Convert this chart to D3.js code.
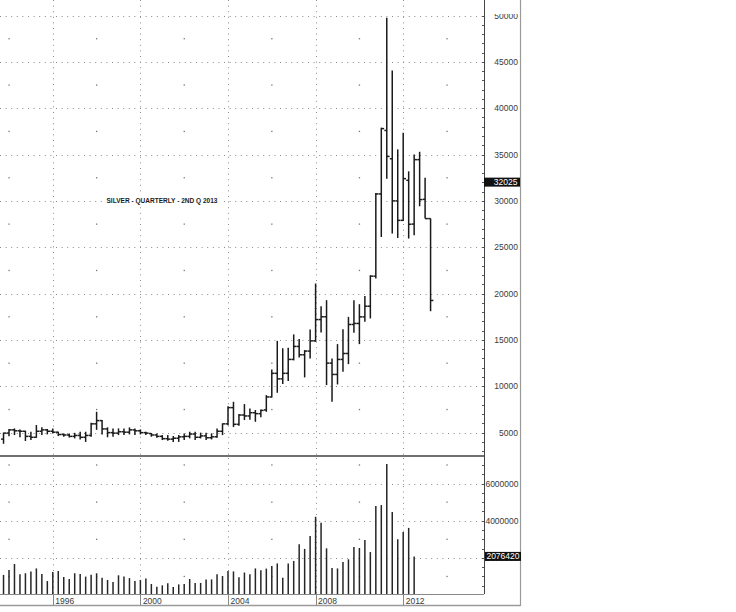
<!DOCTYPE html>
<html><head><meta charset="utf-8">
<script src="https://cdn.jsdelivr.net/npm/d3@7"></script>
<style>body{margin:0;background:#fff}svg{display:block}</style>
</head><body>
<svg id="c" width="736" height="612"></svg>
<script>
const quarters = [
"1993Q4","1994Q1","1994Q2","1994Q3","1994Q4","1995Q1","1995Q2","1995Q3","1995Q4","1996Q1",
"1996Q2","1996Q3","1996Q4","1997Q1","1997Q2","1997Q3","1997Q4","1998Q1","1998Q2","1998Q3",
"1998Q4","1999Q1","1999Q2","1999Q3","1999Q4","2000Q1","2000Q2","2000Q3","2000Q4","2001Q1",
"2001Q2","2001Q3","2001Q4","2002Q1","2002Q2","2002Q3","2002Q4","2003Q1","2003Q2","2003Q3",
"2003Q4","2004Q1","2004Q2","2004Q3","2004Q4","2005Q1","2005Q2","2005Q3","2005Q4","2006Q1",
"2006Q2","2006Q3","2006Q4","2007Q1","2007Q2","2007Q3","2007Q4","2008Q1","2008Q2","2008Q3",
"2008Q4","2009Q1","2009Q2","2009Q3","2009Q4","2010Q1","2010Q2","2010Q3","2010Q4","2011Q1",
"2011Q2","2011Q3","2011Q4","2012Q1","2012Q2","2012Q3","2012Q4","2013Q1","2013Q2"];

const open = [4300,4950,5300,5200,5150,4600,4500,5150,5300,5150,
5050,4800,4750,4600,4700,4500,4700,5950,6300,5400,
5000,4950,5100,5050,5300,5200,5000,4900,4750,4600,
4350,4300,4400,4550,4600,4850,4500,4650,4450,4550,
5150,5950,7700,5900,6900,6800,7150,7050,7450,8850,
11400,10800,11400,12900,14300,13400,13800,14900,17200,17500,
12500,11280,12900,13540,16670,16780,17490,18640,21880,30750,
37600,34550,30000,27900,32220,27500,34450,30170,28090];

const high = [5000,5400,5460,5350,5200,5100,5820,5570,5400,5460,
5100,4920,4920,4980,5100,5100,6070,7250,6360,5570,
5460,5460,5460,5570,5460,5350,5100,4950,4920,4740,
4740,4630,4740,4920,5100,5100,5000,5000,4920,5460,
5990,7850,8330,7000,8080,7600,7440,7500,9050,11800,
14900,14100,14150,15600,15090,13900,16130,21090,18640,19290,
13000,14550,16160,17490,19290,18860,19750,21980,30850,37900,
49750,44070,35560,37360,33190,35000,35300,32510,28100];

const low = [3800,4600,4740,4500,4100,4200,4450,4740,4810,4920,
4630,4560,4490,4380,4270,4000,4560,5300,4800,4500,
4560,4740,4740,4810,4740,4810,4740,4560,4450,4200,
4130,4000,4000,4200,4380,4200,4380,4200,4270,4450,
4740,5800,5600,5750,6360,6400,6170,6650,7250,8800,
9300,10250,10560,12800,13110,10960,13000,14800,15810,10130,
8330,10200,11560,12390,15770,14550,16950,17320,21630,26110,
32400,26480,26000,27830,25940,26300,29420,28090,18100];

const close = [4950,5300,5200,5150,4600,4500,5150,5300,5150,5050,
4800,4750,4600,4700,4500,4700,5950,6300,5400,5000,
4950,5100,5050,5300,5200,5000,4950,4750,4600,4350,
4300,4400,4550,4600,4850,4500,4650,4450,4550,5150,
5950,7700,5900,6900,6800,7150,7050,7400,8850,11400,
10800,11400,12900,14300,13400,13800,14900,17200,17500,12500,
11280,12900,13540,16670,16780,17490,18640,21880,30750,37800,
34800,30000,27900,32400,27480,34450,30140,28090,19260];

const volume = [1080000,1350000,1670000,1110000,1170000,1270000,1430000,1130000,750000,1240000,
1290000,970000,860000,1170000,1130000,990000,1090000,1170000,930000,810000,
700000,1060000,990000,910000,750000,810000,890000,590000,450000,520000,
630000,430000,570000,590000,860000,650000,650000,840000,840000,1110000,
1020000,1290000,1270000,950000,1210000,1110000,1430000,1330000,1420000,1560000,
1700000,930000,1700000,1830000,2730000,2480000,3180000,4210000,3890000,2510000,
1450000,1430000,1780000,1920000,2580000,2530000,2960000,2310000,4790000,4840000,
7050000,4470000,3000000,3390000,3610000,2076420];

const priceTicks = [5000,10000,15000,20000,25000,30000,35000,40000,45000,50000];
const priceMid = [7500,12500,17500,22500,27500,32500,37500,42500,47500];
const volumeTicks = [2000000,4000000,6000000];
const volumeMid = [1000000,3000000,5000000,7000000];
const yearTicks = [1996,2000,2004,2008,2012];
const yearMid = [1994,1998,2002,2006,2010,2014];
const lastPriceLabel = 32025;
const lastVolumeLabel = 2076420;
const title = "SILVER - QUARTERLY - 2ND Q 2013";

const svg = d3.select("#c");
const AX = 484, FR = 520.5;
const x = d3.scaleLinear().domain([1996, 2012]).range([52.8, 403.2]);
const qx = q => x(+q.slice(0,4) + (+q.slice(5) - 1) / 4);
const y = d3.scaleLinear().domain([0, 50000]).range([479, 15.5]);
const yv = d3.scaleLinear().domain([0, 6000000]).range([595, 483.5]);
const FONT = "Liberation Sans, Arial, sans-serif";

const defs = svg.append("defs");
defs.append("clipPath").attr("id","pc").append("rect").attr("x",0).attr("y",0).attr("width",AX).attr("height",455);
defs.append("clipPath").attr("id","vc").append("rect").attr("x",0).attr("y",458).attr("width",AX).attr("height",136);
defs.append("clipPath").attr("id","lc").append("rect").attr("x",AX).attr("y",14).attr("width",60).attr("height",600);

const grid = svg.append("g").attr("stroke","#8a8a8a").attr("stroke-width",1).attr("stroke-dasharray","1,4.6");
grid.selectAll(".ph").data(priceTicks).join("line")
  .attr("x1",0).attr("x2",AX).attr("y1",d=>Math.round(y(d))+0.5).attr("y2",d=>Math.round(y(d))+0.5);
grid.selectAll(".vh").data(volumeTicks).join("line")
  .attr("x1",0).attr("x2",AX).attr("y1",d=>Math.round(yv(d))+0.5).attr("y2",d=>Math.round(yv(d))+0.5);
grid.selectAll(".pv").data(yearTicks).join("line")
  .attr("x1",d=>Math.round(x(d))+0.5).attr("x2",d=>Math.round(x(d))+0.5).attr("y1",0).attr("y2",455);
grid.selectAll(".vv").data(yearTicks).join("line")
  .attr("x1",d=>Math.round(x(d))+0.5).attr("x2",d=>Math.round(x(d))+0.5).attr("y1",458).attr("y2",594);

const dots = svg.append("g").attr("fill","#777");
const pdots = [], vdots = [];
yearMid.forEach(yr => { priceMid.forEach(p => pdots.push([yr,p])); volumeMid.forEach(v => vdots.push([yr,v])); });
dots.selectAll(".pd").data(pdots).join("rect")
  .attr("x",d=>x(d[0])-0.6).attr("y",d=>y(d[1])-0.6).attr("width",1.3).attr("height",1.3);
dots.selectAll(".vd").data(vdots).join("rect")
  .attr("x",d=>x(d[0])-0.6).attr("y",d=>yv(d[1])-0.6).attr("width",1.3).attr("height",1.3);

svg.append("rect").attr("x",104).attr("y",195.5).attr("width",117).attr("height",8).attr("fill","#fff");
svg.append("text").attr("x",106.5).attr("y",202.5).attr("font-family",FONT).attr("font-size",7.2)
  .attr("font-weight","bold").attr("fill","#1a1a1a").attr("textLength",111).attr("lengthAdjust","spacingAndGlyphs").text(title);

const bars = svg.append("g").attr("clip-path","url(#pc)").attr("stroke","#1a1a1a").attr("stroke-width",1.5);
const ohlc = quarters.map((q,i)=>({q, o:open[i], h:high[i], l:low[i], c:close[i]}));
const bg = bars.selectAll("g").data(ohlc).join("g");
bg.append("line").attr("x1",d=>qx(d.q)).attr("x2",d=>qx(d.q)).attr("y1",d=>y(d.h)).attr("y2",d=>y(d.l));
bg.append("line").attr("x1",d=>qx(d.q)-2.4).attr("x2",d=>qx(d.q)).attr("y1",d=>y(d.o)).attr("y2",d=>y(d.o));
bg.append("line").attr("x1",d=>qx(d.q)).attr("x2",d=>qx(d.q)+2.8).attr("y1",d=>y(d.c)).attr("y2",d=>y(d.c));

const vb = svg.append("g").attr("clip-path","url(#vc)").attr("stroke","#262626").attr("stroke-width",1.5);
vb.selectAll("line").data(volume).join("line")
  .attr("x1",(d,i)=>qx(quarters[i])).attr("x2",(d,i)=>qx(quarters[i]))
  .attr("y1",yv(0)).attr("y2",d=>yv(d));

svg.append("line").attr("x1",0).attr("x2",AX).attr("y1",456).attr("y2",456).attr("stroke","#707070").attr("stroke-width",2);
svg.append("line").attr("x1",0).attr("x2",AX).attr("y1",594.5).attr("y2",594.5).attr("stroke","#888").attr("stroke-width",1);
svg.append("line").attr("x1",0).attr("x2",FR).attr("y1",605.5).attr("y2",605.5).attr("stroke","#9a9a9a").attr("stroke-width",1.5);
svg.append("line").attr("x1",FR).attr("x2",FR).attr("y1",0).attr("y2",606).attr("stroke","#9a9a9a").attr("stroke-width",1.2);
svg.append("line").attr("x1",AX+0.5).attr("x2",AX+0.5).attr("y1",0).attr("y2",594).attr("stroke","#444").attr("stroke-width",1);

const minorP = d3.range(3000, 50001, 1000);
svg.append("g").attr("stroke","#555").selectAll("line").data(minorP).join("line")
  .attr("x1",AX-2).attr("x2",AX).attr("y1",d=>Math.round(y(d))+0.5).attr("y2",d=>Math.round(y(d))+0.5);
const minorV = d3.range(500000, 7000001, 500000);
svg.append("g").attr("stroke","#555").selectAll("line").data(minorV).join("line")
  .attr("x1",AX-2).attr("x2",AX).attr("y1",d=>Math.round(yv(d))+0.5).attr("y2",d=>Math.round(yv(d))+0.5);

svg.append("g").attr("stroke","#888").selectAll("line").data(yearTicks).join("line")
  .attr("x1",d=>Math.round(x(d))+0.5).attr("x2",d=>Math.round(x(d))+0.5).attr("y1",594).attr("y2",605);
svg.append("g").attr("font-family",FONT).attr("font-size",8.5).attr("fill","#3a3a3a")
  .selectAll("text").data(yearTicks).join("text")
  .attr("x",d=>x(d)+2.5).attr("y",603.5).text(d=>d);

const lab = svg.append("g").attr("clip-path","url(#lc)").attr("font-family",FONT).attr("font-size",8.5).attr("fill","#3a3a3a").attr("text-anchor","end");
lab.selectAll(".pl").data(priceTicks).join("text").attr("x",518).attr("y",d=>y(d)+3).text(d=>d);
lab.selectAll(".vl").data(volumeTicks).join("text").attr("x",518.5).attr("y",d=>yv(d)+3).text(d=>d);

svg.append("rect").attr("x",AX).attr("y",y(lastPriceLabel)-4.5).attr("width",36).attr("height",9).attr("fill","#111");
svg.append("text").attr("x",517.5).attr("y",y(lastPriceLabel)+3).attr("font-family",FONT).attr("font-size",8.5)
  .attr("fill","#fff").attr("text-anchor","end").text(lastPriceLabel);
svg.append("rect").attr("x",AX+1).attr("y",yv(lastVolumeLabel)-4.5).attr("width",36).attr("height",9).attr("fill","#111");
svg.append("text").attr("x",519.5).attr("y",yv(lastVolumeLabel)+3).attr("font-family",FONT).attr("font-size",8.5)
  .attr("fill","#fff").attr("text-anchor","end").text(lastVolumeLabel);
</script>
</body></html>
